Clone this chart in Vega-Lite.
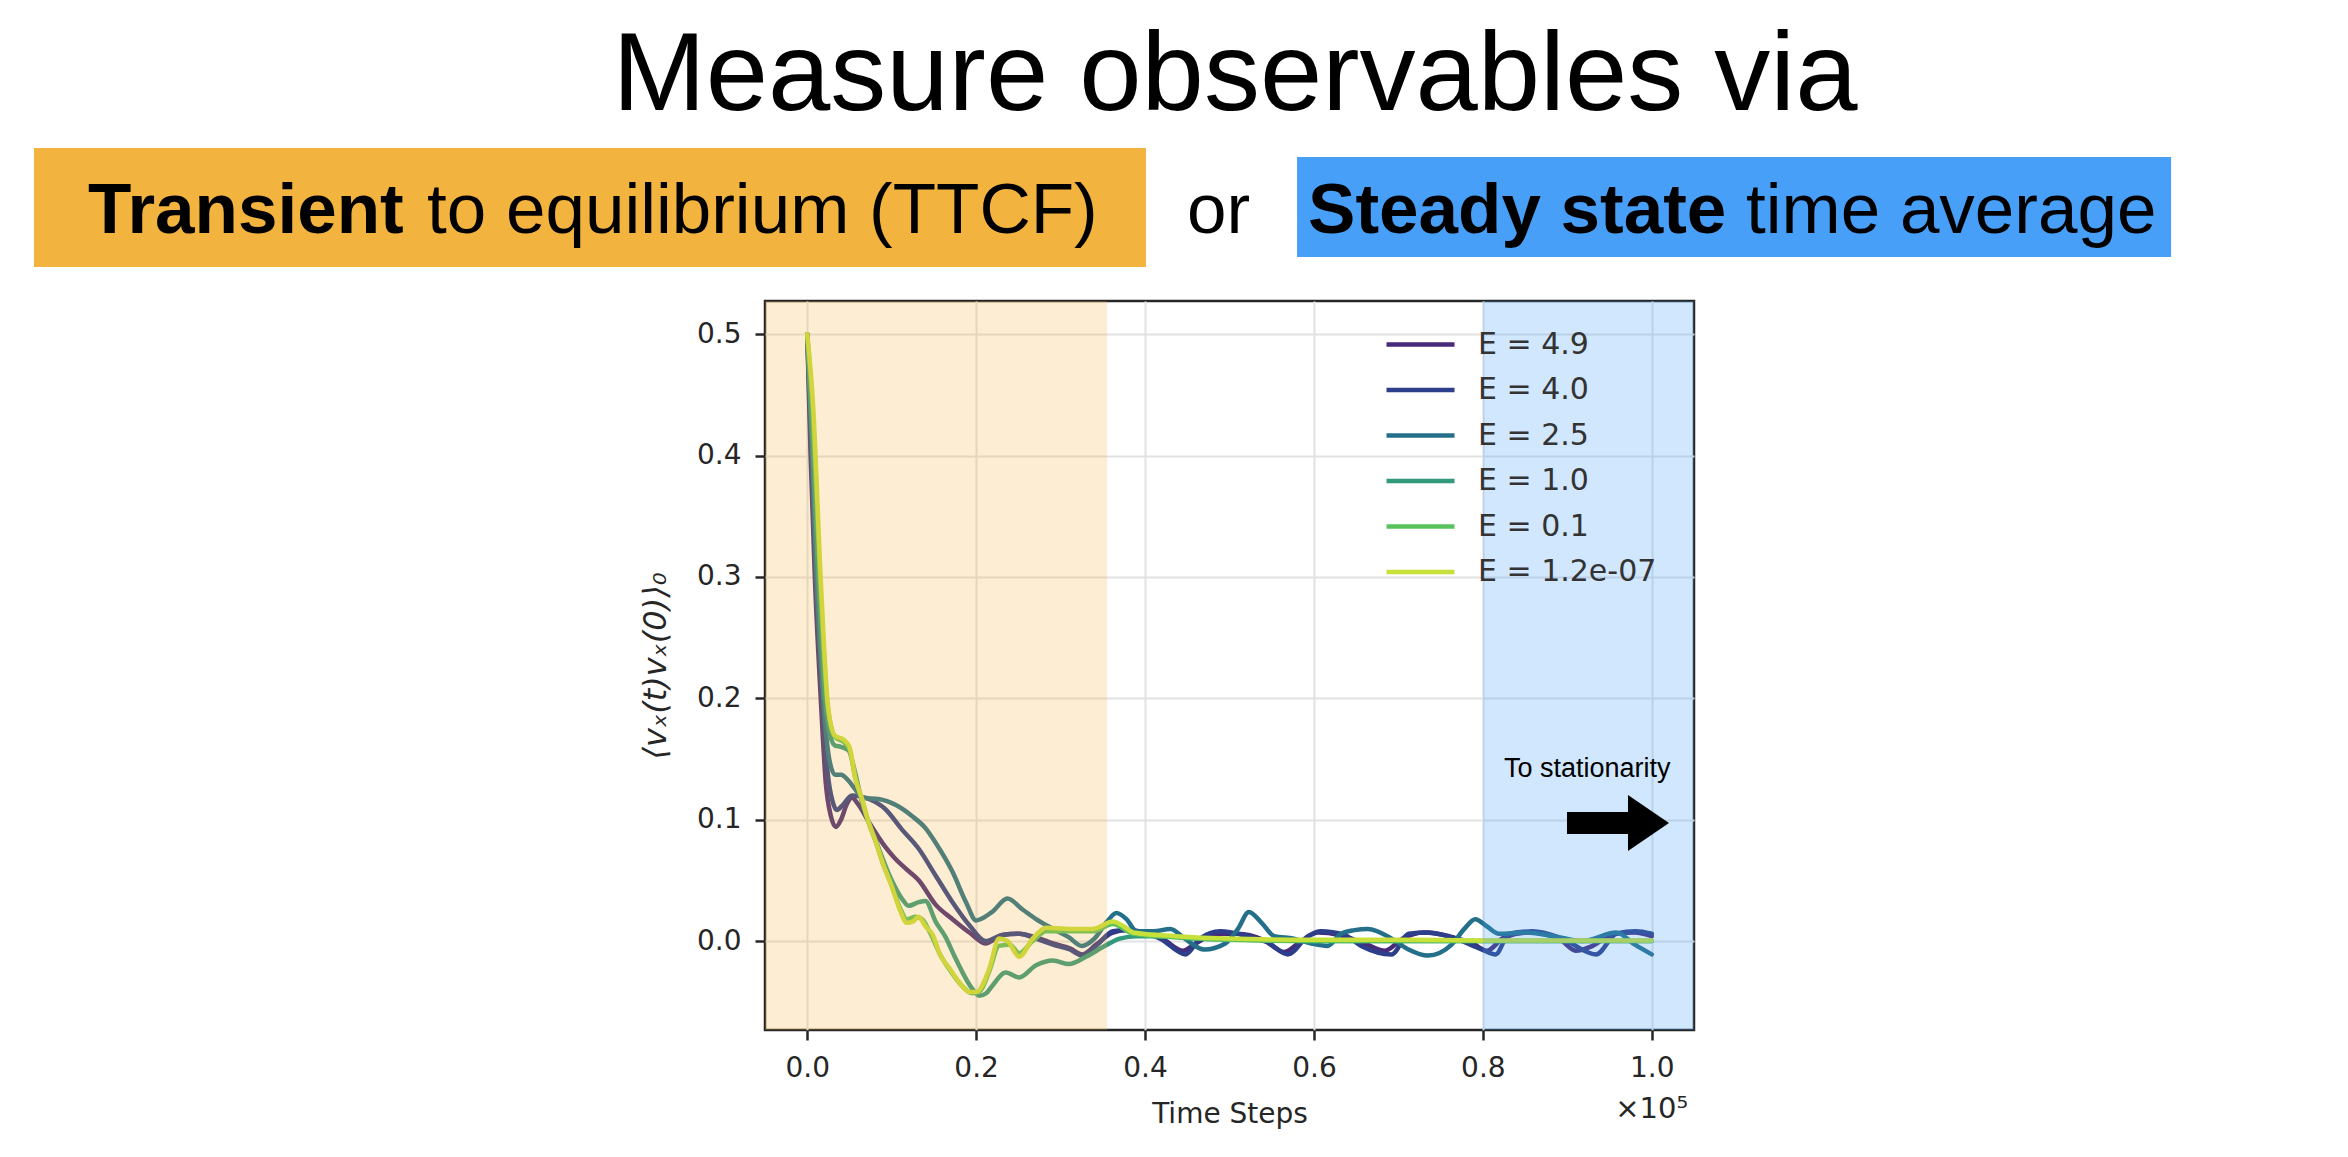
{
  "$schema": "https://vega.github.io/schema/vega-lite/v6.json",
  "width": 929,
  "height": 729,
  "autosize": "none",
  "padding": {"left": 765, "top": 301, "right": 654, "bottom": 127},
  "background": "white",
  "config": {
    "view": {"stroke": "#262626", "strokeWidth": 2.5},
    "axis": {
      "domain": false,
      "labelFont": "DejaVu Sans",
      "labelFontSize": 28,
      "labelColor": "#262626",
      "labelPadding": 14,
      "tickColor": "#262626",
      "tickWidth": 2.5,
      "tickSize": 10,
      "gridColor": "#e2e2e2",
      "gridWidth": 2,
      "titleFont": "DejaVu Sans",
      "titleFontSize": 28,
      "titleFontWeight": "normal",
      "titleColor": "#262626"
    }
  },
  "datasets": {
    "curves": [
      {"E": "E = 4.9", "t": 0, "c": 0.5},
      {"E": "E = 4.9", "t": 0.004, "c": 0.4},
      {"E": "E = 4.9", "t": 0.009, "c": 0.3},
      {"E": "E = 4.9", "t": 0.016, "c": 0.2},
      {"E": "E = 4.9", "t": 0.022, "c": 0.13},
      {"E": "E = 4.9", "t": 0.028, "c": 0.103},
      {"E": "E = 4.9", "t": 0.034, "c": 0.094},
      {"E": "E = 4.9", "t": 0.04, "c": 0.1},
      {"E": "E = 4.9", "t": 0.047, "c": 0.113},
      {"E": "E = 4.9", "t": 0.053, "c": 0.118},
      {"E": "E = 4.9", "t": 0.06, "c": 0.113},
      {"E": "E = 4.9", "t": 0.073, "c": 0.098},
      {"E": "E = 4.9", "t": 0.092, "c": 0.078},
      {"E": "E = 4.9", "t": 0.104, "c": 0.068},
      {"E": "E = 4.9", "t": 0.116, "c": 0.06},
      {"E": "E = 4.9", "t": 0.132, "c": 0.05},
      {"E": "E = 4.9", "t": 0.152, "c": 0.03},
      {"E": "E = 4.9", "t": 0.172, "c": 0.018},
      {"E": "E = 4.9", "t": 0.192, "c": 0.007},
      {"E": "E = 4.9", "t": 0.211, "c": -0.002},
      {"E": "E = 4.9", "t": 0.231, "c": 0.005},
      {"E": "E = 4.9", "t": 0.251, "c": 0.006},
      {"E": "E = 4.9", "t": 0.271, "c": 0.003},
      {"E": "E = 4.9", "t": 0.291, "c": -0.002},
      {"E": "E = 4.9", "t": 0.311, "c": -0.006},
      {"E": "E = 4.9", "t": 0.326, "c": -0.011},
      {"E": "E = 4.9", "t": 0.342, "c": -0.003},
      {"E": "E = 4.9", "t": 0.362, "c": 0.007},
      {"E": "E = 4.9", "t": 0.38, "c": 0.009},
      {"E": "E = 4.9", "t": 0.4, "c": 0.006},
      {"E": "E = 4.9", "t": 0.42, "c": 0.002},
      {"E": "E = 4.9", "t": 0.445, "c": -0.008},
      {"E": "E = 4.9", "t": 0.46, "c": -0.002},
      {"E": "E = 4.9", "t": 0.485, "c": 0.006},
      {"E": "E = 4.9", "t": 0.51, "c": 0.006},
      {"E": "E = 4.9", "t": 0.54, "c": 0.001},
      {"E": "E = 4.9", "t": 0.565, "c": -0.009},
      {"E": "E = 4.9", "t": 0.585, "c": 0.0},
      {"E": "E = 4.9", "t": 0.605, "c": 0.007},
      {"E": "E = 4.9", "t": 0.63, "c": 0.005},
      {"E": "E = 4.9", "t": 0.66, "c": -0.002},
      {"E": "E = 4.9", "t": 0.684, "c": -0.008},
      {"E": "E = 4.9", "t": 0.705, "c": 0.002},
      {"E": "E = 4.9", "t": 0.73, "c": 0.007},
      {"E": "E = 4.9", "t": 0.76, "c": 0.004},
      {"E": "E = 4.9", "t": 0.79, "c": -0.003},
      {"E": "E = 4.9", "t": 0.805, "c": -0.008},
      {"E": "E = 4.9", "t": 0.825, "c": 0.003},
      {"E": "E = 4.9", "t": 0.855, "c": 0.007},
      {"E": "E = 4.9", "t": 0.89, "c": 0.002},
      {"E": "E = 4.9", "t": 0.91, "c": -0.008},
      {"E": "E = 4.9", "t": 0.93, "c": -0.004},
      {"E": "E = 4.9", "t": 0.955, "c": 0.006},
      {"E": "E = 4.9", "t": 0.98, "c": 0.007},
      {"E": "E = 4.9", "t": 1.0, "c": 0.004},

      {"E": "E = 4.0", "t": 0, "c": 0.5},
      {"E": "E = 4.0", "t": 0.005, "c": 0.4},
      {"E": "E = 4.0", "t": 0.01, "c": 0.3},
      {"E": "E = 4.0", "t": 0.018, "c": 0.2},
      {"E": "E = 4.0", "t": 0.024, "c": 0.14},
      {"E": "E = 4.0", "t": 0.03, "c": 0.115},
      {"E": "E = 4.0", "t": 0.035, "c": 0.108},
      {"E": "E = 4.0", "t": 0.042, "c": 0.112},
      {"E": "E = 4.0", "t": 0.053, "c": 0.12},
      {"E": "E = 4.0", "t": 0.073, "c": 0.117},
      {"E": "E = 4.0", "t": 0.092, "c": 0.109},
      {"E": "E = 4.0", "t": 0.112, "c": 0.092},
      {"E": "E = 4.0", "t": 0.132, "c": 0.076},
      {"E": "E = 4.0", "t": 0.152, "c": 0.054},
      {"E": "E = 4.0", "t": 0.172, "c": 0.032},
      {"E": "E = 4.0", "t": 0.192, "c": 0.013},
      {"E": "E = 4.0", "t": 0.211, "c": 0.0},
      {"E": "E = 4.0", "t": 0.231, "c": 0.005},
      {"E": "E = 4.0", "t": 0.251, "c": 0.006},
      {"E": "E = 4.0", "t": 0.271, "c": 0.002},
      {"E": "E = 4.0", "t": 0.291, "c": -0.003},
      {"E": "E = 4.0", "t": 0.311, "c": -0.007},
      {"E": "E = 4.0", "t": 0.326, "c": -0.012},
      {"E": "E = 4.0", "t": 0.342, "c": -0.004},
      {"E": "E = 4.0", "t": 0.362, "c": 0.008},
      {"E": "E = 4.0", "t": 0.38, "c": 0.009},
      {"E": "E = 4.0", "t": 0.418, "c": 0.002},
      {"E": "E = 4.0", "t": 0.448, "c": -0.011},
      {"E": "E = 4.0", "t": 0.465, "c": 0.002},
      {"E": "E = 4.0", "t": 0.489, "c": 0.008},
      {"E": "E = 4.0", "t": 0.521, "c": 0.004},
      {"E": "E = 4.0", "t": 0.545, "c": -0.001},
      {"E": "E = 4.0", "t": 0.569, "c": -0.011},
      {"E": "E = 4.0", "t": 0.593, "c": 0.004},
      {"E": "E = 4.0", "t": 0.608, "c": 0.008},
      {"E": "E = 4.0", "t": 0.636, "c": 0.005},
      {"E": "E = 4.0", "t": 0.656, "c": -0.004},
      {"E": "E = 4.0", "t": 0.692, "c": -0.011},
      {"E": "E = 4.0", "t": 0.712, "c": 0.006},
      {"E": "E = 4.0", "t": 0.735, "c": 0.007},
      {"E": "E = 4.0", "t": 0.763, "c": 0.003},
      {"E": "E = 4.0", "t": 0.799, "c": -0.007},
      {"E": "E = 4.0", "t": 0.815, "c": -0.011},
      {"E": "E = 4.0", "t": 0.831, "c": 0.006},
      {"E": "E = 4.0", "t": 0.859, "c": 0.008},
      {"E": "E = 4.0", "t": 0.894, "c": 0.002},
      {"E": "E = 4.0", "t": 0.934, "c": -0.011},
      {"E": "E = 4.0", "t": 0.958, "c": 0.006},
      {"E": "E = 4.0", "t": 0.981, "c": 0.008},
      {"E": "E = 4.0", "t": 1.0, "c": 0.006},

      {"E": "E = 2.5", "t": 0, "c": 0.5},
      {"E": "E = 2.5", "t": 0.006, "c": 0.4},
      {"E": "E = 2.5", "t": 0.011, "c": 0.3},
      {"E": "E = 2.5", "t": 0.019, "c": 0.2},
      {"E": "E = 2.5", "t": 0.026, "c": 0.15},
      {"E": "E = 2.5", "t": 0.033, "c": 0.137},
      {"E": "E = 2.5", "t": 0.04, "c": 0.137},
      {"E": "E = 2.5", "t": 0.049, "c": 0.132},
      {"E": "E = 2.5", "t": 0.058, "c": 0.124},
      {"E": "E = 2.5", "t": 0.066, "c": 0.118},
      {"E": "E = 2.5", "t": 0.0845, "c": 0.117},
      {"E": "E = 2.5", "t": 0.105, "c": 0.112},
      {"E": "E = 2.5", "t": 0.124, "c": 0.103},
      {"E": "E = 2.5", "t": 0.14, "c": 0.093},
      {"E": "E = 2.5", "t": 0.152, "c": 0.081},
      {"E": "E = 2.5", "t": 0.172, "c": 0.057},
      {"E": "E = 2.5", "t": 0.188, "c": 0.032},
      {"E": "E = 2.5", "t": 0.2, "c": 0.017},
      {"E": "E = 2.5", "t": 0.219, "c": 0.024},
      {"E": "E = 2.5", "t": 0.237, "c": 0.035},
      {"E": "E = 2.5", "t": 0.255, "c": 0.026},
      {"E": "E = 2.5", "t": 0.271, "c": 0.018},
      {"E": "E = 2.5", "t": 0.291, "c": 0.01},
      {"E": "E = 2.5", "t": 0.31, "c": 0.003},
      {"E": "E = 2.5", "t": 0.325, "c": -0.004},
      {"E": "E = 2.5", "t": 0.34, "c": 0.002},
      {"E": "E = 2.5", "t": 0.355, "c": 0.016},
      {"E": "E = 2.5", "t": 0.366, "c": 0.023},
      {"E": "E = 2.5", "t": 0.378, "c": 0.018},
      {"E": "E = 2.5", "t": 0.39, "c": 0.008},
      {"E": "E = 2.5", "t": 0.41, "c": 0.008},
      {"E": "E = 2.5", "t": 0.43, "c": 0.01},
      {"E": "E = 2.5", "t": 0.447, "c": 0.002},
      {"E": "E = 2.5", "t": 0.47, "c": -0.007},
      {"E": "E = 2.5", "t": 0.495, "c": -0.002},
      {"E": "E = 2.5", "t": 0.51, "c": 0.01},
      {"E": "E = 2.5", "t": 0.523, "c": 0.024},
      {"E": "E = 2.5", "t": 0.538, "c": 0.015},
      {"E": "E = 2.5", "t": 0.553, "c": 0.004},
      {"E": "E = 2.5", "t": 0.576, "c": 0.002},
      {"E": "E = 2.5", "t": 0.597, "c": -0.002},
      {"E": "E = 2.5", "t": 0.616, "c": -0.004},
      {"E": "E = 2.5", "t": 0.632, "c": 0.006},
      {"E": "E = 2.5", "t": 0.648, "c": 0.009},
      {"E": "E = 2.5", "t": 0.664, "c": 0.01},
      {"E": "E = 2.5", "t": 0.692, "c": 0.002},
      {"E": "E = 2.5", "t": 0.712, "c": -0.007},
      {"E": "E = 2.5", "t": 0.735, "c": -0.012},
      {"E": "E = 2.5", "t": 0.763, "c": -0.003},
      {"E": "E = 2.5", "t": 0.778, "c": 0.01},
      {"E": "E = 2.5", "t": 0.791, "c": 0.018},
      {"E": "E = 2.5", "t": 0.805, "c": 0.012},
      {"E": "E = 2.5", "t": 0.819, "c": 0.006},
      {"E": "E = 2.5", "t": 0.851, "c": 0.007},
      {"E": "E = 2.5", "t": 0.891, "c": 0.003},
      {"E": "E = 2.5", "t": 0.918, "c": 0.0},
      {"E": "E = 2.5", "t": 0.958, "c": 0.007},
      {"E": "E = 2.5", "t": 0.98, "c": -0.003},
      {"E": "E = 2.5", "t": 1.0, "c": -0.011},

      {"E": "E = 1.0", "t": 0, "c": 0.5},
      {"E": "E = 1.0", "t": 0.007, "c": 0.4},
      {"E": "E = 1.0", "t": 0.013, "c": 0.3},
      {"E": "E = 1.0", "t": 0.021, "c": 0.2},
      {"E": "E = 1.0", "t": 0.027, "c": 0.17},
      {"E": "E = 1.0", "t": 0.033, "c": 0.161},
      {"E": "E = 1.0", "t": 0.04, "c": 0.16},
      {"E": "E = 1.0", "t": 0.049, "c": 0.157},
      {"E": "E = 1.0", "t": 0.057, "c": 0.138},
      {"E": "E = 1.0", "t": 0.065, "c": 0.114},
      {"E": "E = 1.0", "t": 0.08, "c": 0.085},
      {"E": "E = 1.0", "t": 0.1, "c": 0.05},
      {"E": "E = 1.0", "t": 0.112, "c": 0.035},
      {"E": "E = 1.0", "t": 0.12, "c": 0.029},
      {"E": "E = 1.0", "t": 0.132, "c": 0.032},
      {"E": "E = 1.0", "t": 0.14, "c": 0.033},
      {"E": "E = 1.0", "t": 0.152, "c": 0.016},
      {"E": "E = 1.0", "t": 0.164, "c": 0.003},
      {"E": "E = 1.0", "t": 0.174, "c": -0.012},
      {"E": "E = 1.0", "t": 0.184, "c": -0.026},
      {"E": "E = 1.0", "t": 0.194, "c": -0.038},
      {"E": "E = 1.0", "t": 0.204, "c": -0.045},
      {"E": "E = 1.0", "t": 0.212, "c": -0.043},
      {"E": "E = 1.0", "t": 0.219, "c": -0.037},
      {"E": "E = 1.0", "t": 0.235, "c": -0.026},
      {"E": "E = 1.0", "t": 0.251, "c": -0.03},
      {"E": "E = 1.0", "t": 0.271, "c": -0.02},
      {"E": "E = 1.0", "t": 0.291, "c": -0.016},
      {"E": "E = 1.0", "t": 0.31, "c": -0.019},
      {"E": "E = 1.0", "t": 0.33, "c": -0.013},
      {"E": "E = 1.0", "t": 0.35, "c": -0.005},
      {"E": "E = 1.0", "t": 0.37, "c": 0.002},
      {"E": "E = 1.0", "t": 0.39, "c": 0.004},
      {"E": "E = 1.0", "t": 0.42, "c": 0.004},
      {"E": "E = 1.0", "t": 0.46, "c": 0.002},
      {"E": "E = 1.0", "t": 0.52, "c": 0.001},
      {"E": "E = 1.0", "t": 0.6, "c": 0.0},
      {"E": "E = 1.0", "t": 0.7, "c": 0.0},
      {"E": "E = 1.0", "t": 0.8, "c": 0.0},
      {"E": "E = 1.0", "t": 0.9, "c": 0.0},
      {"E": "E = 1.0", "t": 1.0, "c": 0.0},

      {"E": "E = 0.1", "t": 0, "c": 0.5},
      {"E": "E = 0.1", "t": 0.007, "c": 0.43},
      {"E": "E = 0.1", "t": 0.015, "c": 0.3},
      {"E": "E = 0.1", "t": 0.024, "c": 0.195},
      {"E": "E = 0.1", "t": 0.033, "c": 0.168},
      {"E": "E = 0.1", "t": 0.043, "c": 0.164},
      {"E": "E = 0.1", "t": 0.05, "c": 0.158},
      {"E": "E = 0.1", "t": 0.057, "c": 0.134},
      {"E": "E = 0.1", "t": 0.065, "c": 0.116},
      {"E": "E = 0.1", "t": 0.073, "c": 0.097},
      {"E": "E = 0.1", "t": 0.081, "c": 0.082},
      {"E": "E = 0.1", "t": 0.09, "c": 0.063},
      {"E": "E = 0.1", "t": 0.1, "c": 0.046},
      {"E": "E = 0.1", "t": 0.11, "c": 0.027},
      {"E": "E = 0.1", "t": 0.118, "c": 0.018},
      {"E": "E = 0.1", "t": 0.128, "c": 0.02},
      {"E": "E = 0.1", "t": 0.136, "c": 0.018},
      {"E": "E = 0.1", "t": 0.146, "c": 0.006},
      {"E": "E = 0.1", "t": 0.158, "c": -0.012},
      {"E": "E = 0.1", "t": 0.17, "c": -0.025},
      {"E": "E = 0.1", "t": 0.182, "c": -0.036},
      {"E": "E = 0.1", "t": 0.195, "c": -0.043},
      {"E": "E = 0.1", "t": 0.205, "c": -0.041},
      {"E": "E = 0.1", "t": 0.2155, "c": -0.025},
      {"E": "E = 0.1", "t": 0.227, "c": -0.004},
      {"E": "E = 0.1", "t": 0.24, "c": -0.003},
      {"E": "E = 0.1", "t": 0.251, "c": -0.01},
      {"E": "E = 0.1", "t": 0.267, "c": 0.0},
      {"E": "E = 0.1", "t": 0.283, "c": 0.008},
      {"E": "E = 0.1", "t": 0.311, "c": 0.008},
      {"E": "E = 0.1", "t": 0.338, "c": 0.008},
      {"E": "E = 0.1", "t": 0.362, "c": 0.014},
      {"E": "E = 0.1", "t": 0.386, "c": 0.006},
      {"E": "E = 0.1", "t": 0.44, "c": 0.003},
      {"E": "E = 0.1", "t": 0.5, "c": 0.001},
      {"E": "E = 0.1", "t": 0.6, "c": 0.0},
      {"E": "E = 0.1", "t": 0.7, "c": 0.0},
      {"E": "E = 0.1", "t": 0.8, "c": 0.0},
      {"E": "E = 0.1", "t": 0.9, "c": 0.0},
      {"E": "E = 0.1", "t": 1.0, "c": 0.0},

      {"E": "E = 1.2e-07", "t": 0, "c": 0.5},
      {"E": "E = 1.2e-07", "t": 0.007, "c": 0.441},
      {"E": "E = 1.2e-07", "t": 0.016, "c": 0.298},
      {"E": "E = 1.2e-07", "t": 0.025, "c": 0.191},
      {"E": "E = 1.2e-07", "t": 0.033, "c": 0.169},
      {"E": "E = 1.2e-07", "t": 0.043, "c": 0.166},
      {"E": "E = 1.2e-07", "t": 0.05, "c": 0.16},
      {"E": "E = 1.2e-07", "t": 0.057, "c": 0.134},
      {"E": "E = 1.2e-07", "t": 0.065, "c": 0.117},
      {"E": "E = 1.2e-07", "t": 0.073, "c": 0.097},
      {"E": "E = 1.2e-07", "t": 0.081, "c": 0.082},
      {"E": "E = 1.2e-07", "t": 0.09, "c": 0.063},
      {"E": "E = 1.2e-07", "t": 0.1, "c": 0.045},
      {"E": "E = 1.2e-07", "t": 0.11, "c": 0.025},
      {"E": "E = 1.2e-07", "t": 0.118, "c": 0.015},
      {"E": "E = 1.2e-07", "t": 0.125, "c": 0.016},
      {"E": "E = 1.2e-07", "t": 0.132, "c": 0.02},
      {"E": "E = 1.2e-07", "t": 0.14, "c": 0.012},
      {"E": "E = 1.2e-07", "t": 0.148, "c": 0.006},
      {"E": "E = 1.2e-07", "t": 0.158, "c": -0.012},
      {"E": "E = 1.2e-07", "t": 0.168, "c": -0.022},
      {"E": "E = 1.2e-07", "t": 0.18, "c": -0.034},
      {"E": "E = 1.2e-07", "t": 0.192, "c": -0.042},
      {"E": "E = 1.2e-07", "t": 0.2, "c": -0.042},
      {"E": "E = 1.2e-07", "t": 0.2155, "c": -0.023},
      {"E": "E = 1.2e-07", "t": 0.227, "c": 0.002},
      {"E": "E = 1.2e-07", "t": 0.237, "c": 0.0},
      {"E": "E = 1.2e-07", "t": 0.251, "c": -0.013},
      {"E": "E = 1.2e-07", "t": 0.267, "c": 0.002},
      {"E": "E = 1.2e-07", "t": 0.283, "c": 0.011},
      {"E": "E = 1.2e-07", "t": 0.311, "c": 0.01},
      {"E": "E = 1.2e-07", "t": 0.338, "c": 0.01},
      {"E": "E = 1.2e-07", "t": 0.362, "c": 0.016},
      {"E": "E = 1.2e-07", "t": 0.375, "c": 0.012},
      {"E": "E = 1.2e-07", "t": 0.386, "c": 0.007},
      {"E": "E = 1.2e-07", "t": 0.437, "c": 0.004},
      {"E": "E = 1.2e-07", "t": 0.497, "c": 0.002},
      {"E": "E = 1.2e-07", "t": 0.6, "c": 0.001},
      {"E": "E = 1.2e-07", "t": 0.7, "c": 0.001},
      {"E": "E = 1.2e-07", "t": 0.8, "c": 0.0005},
      {"E": "E = 1.2e-07", "t": 0.9, "c": 0.0005},
      {"E": "E = 1.2e-07", "t": 1.0, "c": 0.0005}
    ],
    "headline": [{"label": "Measure observables via"}],
    "ttcfBold": [{"label": "Transient"}],
    "ttcfRest": [{"label": "to equilibrium (TTCF)"}],
    "orWord": [{"label": "or"}],
    "steadyBold": [{"label": "Steady state"}],
    "steadyRest": [{"label": "time average"}],
    "note": [{"label": "To stationarity"}],
    "offsetText": [{"label": "×10⁵"}],
    "one": [{}]
  },
  "layer": [
    {
      "data": {"name": "curves"},
      "mark": {"type": "line", "interpolate": "monotone", "strokeCap": "round", "strokeJoin": "round"},
      "encoding": {
        "x": {
          "field": "t", "type": "quantitative",
          "scale": {"domain": [-0.05, 1.05], "nice": false, "zero": false},
          "axis": {"values": [0, 0.2, 0.4, 0.6, 0.8, 1.0], "format": ".1f", "title": "Time Steps", "titlePadding": 18}
        },
        "y": {
          "field": "c", "type": "quantitative",
          "scale": {"domain": [-0.0733, 0.5273], "nice": false, "zero": false},
          "axis": {"values": [0, 0.1, 0.2, 0.3, 0.4, 0.5], "format": ".1f", "title": "⟨vₓ(t)vₓ(0)⟩₀", "titleFontStyle": "italic", "titleFontSize": 32, "titlePadding": 24}
        },
        "color": {
          "field": "E", "type": "nominal",
          "scale": {
            "domain": ["E = 4.9", "E = 4.0", "E = 2.5", "E = 1.0", "E = 0.1", "E = 1.2e-07"],
            "range": ["#472a7a", "#2d3e8a", "#24708a", "#33997c", "#5ac25c", "#c8e03a"]
          },
          "legend": {
            "title": null,
            "orient": "none",
            "legendX": 636,
            "legendY": 24,
            "padding": 0,
            "symbolType": "M-2,0H2",
            "symbolSize": 1156,
            "symbolStrokeWidth": 4.5,
            "labelFont": "DejaVu Sans",
            "labelFontSize": 30,
            "labelColor": "#333333",
            "labelOffset": 38,
            "labelLimit": 400,
            "rowPadding": 10.5
          }
        },
        "strokeWidth": {
          "field": "E", "type": "nominal",
          "scale": {
            "domain": ["E = 4.9", "E = 4.0", "E = 2.5", "E = 1.0", "E = 0.1", "E = 1.2e-07"],
            "range": [4.5, 4.5, 4.5, 4.5, 4.5, 6]
          },
          "legend": null
        }
      }
    },
    {
      "data": {"name": "one"},
      "mark": {"type": "rect", "color": "#F3B33F", "opacity": 0.23},
      "encoding": {"x": {"datum": -0.05}, "x2": {"datum": 0.355}}
    },
    {
      "data": {"name": "one"},
      "mark": {"type": "rect", "color": "#479FF8", "opacity": 0.25},
      "encoding": {"x": {"datum": 0.8}, "x2": {"datum": 1.05}}
    },
    {
      "data": {"name": "one"},
      "mark": {"type": "rect", "color": "#F3B33F", "clip": false},
      "encoding": {"x": {"datum": -0.9156}, "x2": {"datum": 0.4011}, "y": {"datum": 0.6534}, "y2": {"datum": 0.5553}}
    },
    {
      "data": {"name": "one"},
      "mark": {"type": "rect", "color": "#479FF8", "clip": false},
      "encoding": {"x": {"datum": 0.58}, "x2": {"datum": 1.6149}, "y": {"datum": 0.6459}, "y2": {"datum": 0.5635}}
    },
    {
      "data": {"name": "headline"},
      "mark": {"type": "text", "font": "Liberation Sans", "fontSize": 112, "align": "center", "baseline": "alphabetic", "color": "#000000"},
      "encoding": {"x": {"datum": 0.5065}, "y": {"datum": 0.6847}, "text": {"field": "label"}}
    },
    {
      "data": {"name": "ttcfBold"},
      "mark": {"type": "text", "font": "Liberation Sans", "fontSize": 71, "fontWeight": "bold", "align": "left", "baseline": "alphabetic", "color": "#000000"},
      "encoding": {"x": {"datum": -0.8516}, "y": {"datum": 0.5833}, "text": {"field": "label"}}
    },
    {
      "data": {"name": "ttcfRest"},
      "mark": {"type": "text", "font": "Liberation Sans", "fontSize": 71, "align": "left", "baseline": "alphabetic", "color": "#000000"},
      "encoding": {"x": {"datum": -0.4502}, "y": {"datum": 0.5833}, "text": {"field": "label"}}
    },
    {
      "data": {"name": "orWord"},
      "mark": {"type": "text", "font": "Liberation Sans", "fontSize": 71, "align": "left", "baseline": "alphabetic", "color": "#000000"},
      "encoding": {"x": {"datum": 0.4497}, "y": {"datum": 0.5833}, "text": {"field": "label"}}
    },
    {
      "data": {"name": "steadyBold"},
      "mark": {"type": "text", "font": "Liberation Sans", "fontSize": 71, "fontWeight": "bold", "align": "left", "baseline": "alphabetic", "color": "#000000"},
      "encoding": {"x": {"datum": 0.593}, "y": {"datum": 0.5833}, "text": {"field": "label"}}
    },
    {
      "data": {"name": "steadyRest"},
      "mark": {"type": "text", "font": "Liberation Sans", "fontSize": 71, "align": "left", "baseline": "alphabetic", "color": "#000000"},
      "encoding": {"x": {"datum": 1.1116}, "y": {"datum": 0.5833}, "text": {"field": "label"}}
    },
    {
      "data": {"name": "note"},
      "mark": {"type": "text", "font": "Liberation Sans", "fontSize": 27, "align": "left", "baseline": "alphabetic", "color": "#000000"},
      "encoding": {"x": {"datum": 0.825}, "y": {"datum": 0.1351}, "text": {"field": "label"}}
    },
    {
      "data": {"name": "one"},
      "mark": {
        "type": "point",
        "shape": "M-1,-0.216L0.196,-0.216L0.196,-0.549L1,0L0.196,0.549L0.196,0.216L-1,0.216Z",
        "size": 10404,
        "filled": true,
        "color": "#000000",
        "opacity": 1,
        "strokeWidth": 0
      },
      "encoding": {"x": {"datum": 0.96}, "y": {"datum": 0.0972}}
    },
    {
      "data": {"name": "offsetText"},
      "mark": {"type": "text", "font": "DejaVu Sans", "fontSize": 29, "align": "right", "baseline": "alphabetic", "color": "#262626"},
      "encoding": {"x": {"datum": 1.0429}, "y": {"datum": -0.1458}, "text": {"field": "label"}}
    }
  ]
}
